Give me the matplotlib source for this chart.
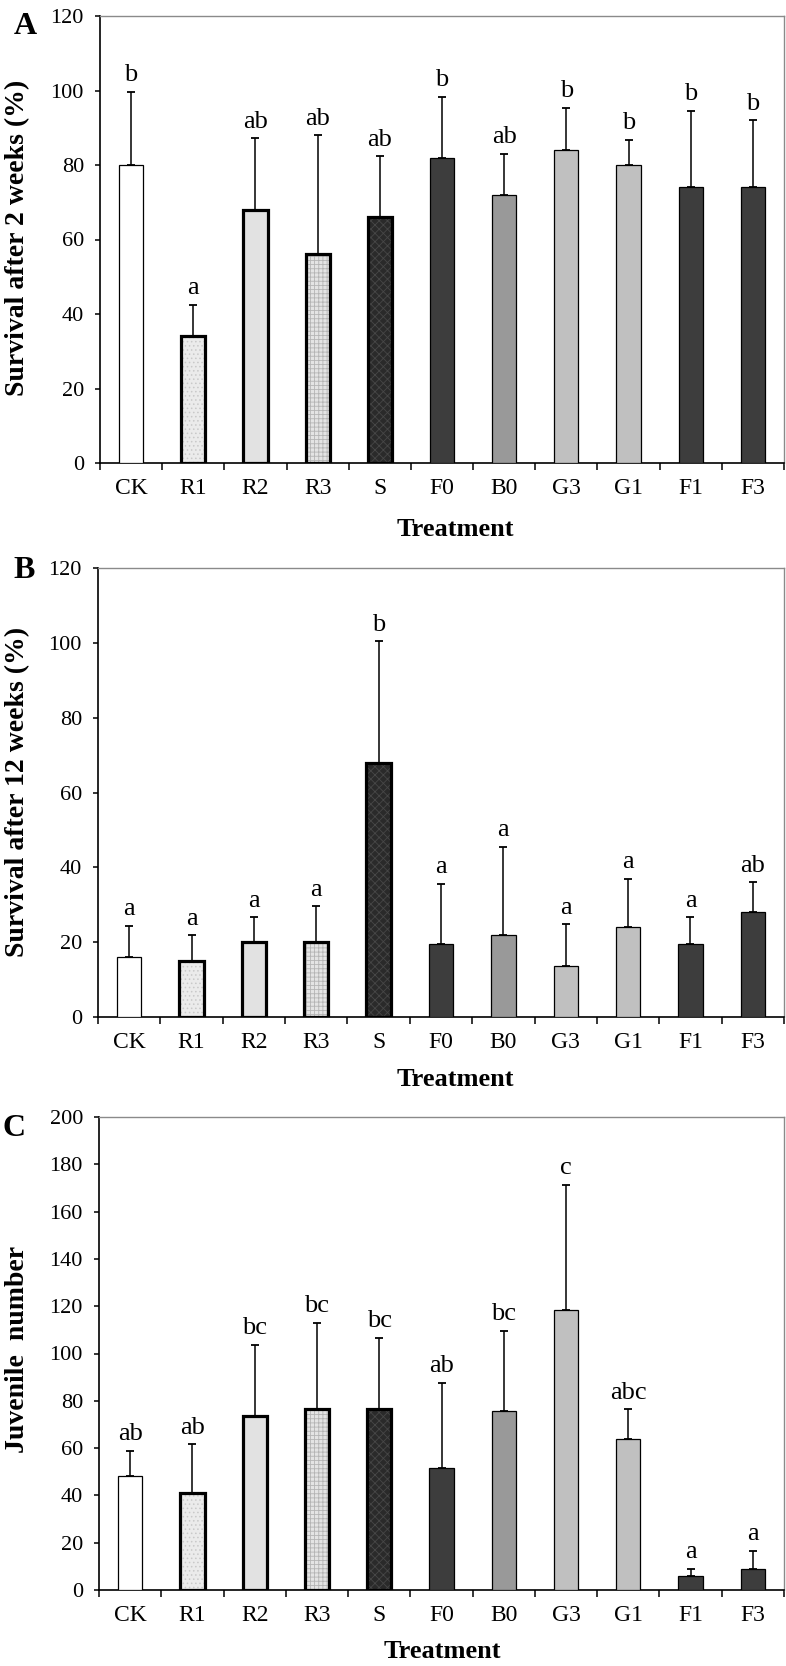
import matplotlib
matplotlib.use("Agg")
import matplotlib.pyplot as plt
import numpy as np

plt.rcParams["font.family"] = ["Liberation Serif", "DejaVu Serif"]
plt.rcParams["hatch.linewidth"] = 0.6

W, H = 786, 1666

categories = ["CK", "R1", "R2", "R3", "S", "F0", "B0", "G3", "G1", "F1", "F3"]

# panel A: survival after 2 weeks
surv2_mean = [80, 34, 68, 56, 66, 82, 72, 84, 80, 74, 74]
surv2_err = [19.7, 8.5, 19.2, 32, 16.4, 16.3, 11, 11.3, 6.8, 20.6, 18]
surv2_letters = ["b", "a", "ab", "ab", "ab", "b", "ab", "b", "b", "b", "b"]

# panel B: survival after 12 weeks
surv12_mean = [16, 15, 20, 20, 68, 19.6, 22, 13.7, 24, 19.6, 28]
surv12_err = [8.4, 6.9, 6.6, 9.6, 32.4, 16, 23.5, 11.1, 13, 7, 8]
surv12_letters = ["a", "a", "a", "a", "b", "a", "a", "a", "a", "a", "ab"]

# panel C: juvenile number
juv_mean = [48.3, 41, 73.4, 76.7, 76.7, 51.7, 75.7, 118.4, 63.7, 6.1, 9]
juv_err = [10.5, 20.6, 30.4, 36.3, 29.9, 36, 33.8, 52.9, 12.7, 2.9, 7.6]
juv_letters = ["ab", "ab", "bc", "bc", "bc", "ab", "bc", "c", "abc", "a", "a"]

# bar styles: (face, hatch, hatch colour, edge width)
styles = {
    "CK": ("#ffffff", None, None, 0.9),
    "R1": ("#ebebeb", "....", "#c9c9c9", 2.3),
    "R2": ("#e2e2e2", None, None, 2.3),
    "R3": ("#e4e4e4", "++++", "#b4b4b4", 2.3),
    "S": ("#2a2a2a", "xxxx", "#474747", 2.3),
    "F0": ("#3d3d3d", None, None, 0.9),
    "B0": ("#999999", None, None, 0.9),
    "G3": ("#c0c0c0", None, None, 0.9),
    "G1": ("#c0c0c0", None, None, 0.9),
    "F1": ("#3d3d3d", None, None, 0.9),
    "F3": ("#3d3d3d", None, None, 0.9),
}


def px_rect(left, top, right, bottom):
    return [left / W, 1 - bottom / H, (right - left) / W, (bottom - top) / H]


def draw_panel(ax, mean, err, letters, ymax, ystep):
    x = np.arange(len(categories))
    width = 0.39
    for i, cat in enumerate(categories):
        face, hatch, hcol, lw = styles[cat]
        if hatch:
            ax.bar(x[i], mean[i], width, color=face, hatch=hatch,
                   edgecolor=hcol, linewidth=0, zorder=2)
            ax.bar(x[i], mean[i], width, facecolor="none",
                   edgecolor="black", linewidth=lw, zorder=3)
        else:
            ax.bar(x[i], mean[i], width, color=face,
                   edgecolor="black", linewidth=lw, zorder=3)
    ax.errorbar(x, mean, yerr=[np.zeros(len(err)), err], fmt="none",
                ecolor="black", elinewidth=1.1, capsize=2.9, capthick=1.3,
                zorder=4)
    for i, lab in enumerate(letters):
        ax.annotate(lab, (x[i], mean[i] + err[i]), xytext=(0, 4),
                    textcoords="offset points", ha="center", va="bottom",
                    fontsize=19)

    ax.set_xlim(-0.5, len(categories) - 0.5)
    ax.set_ylim(0, ymax)
    ax.set_yticks(np.arange(0, ymax + 1, ystep))
    ax.set_xticks(x)
    ax.set_xticklabels(categories, fontsize=17)
    ax.set_xticks(np.arange(-0.5, len(categories)), minor=True)
    ax.tick_params(axis="x", which="major", length=0, pad=10.5)
    ax.tick_params(axis="x", which="minor", length=5, width=1.1,
                   direction="out")
    ax.tick_params(axis="y", length=3.6, width=1.1, direction="out",
                   labelsize=16, pad=8)

    for side in ("top", "right"):
        ax.spines[side].set_color("#8a8a8a")
        ax.spines[side].set_linewidth(1.0)
    for side in ("left", "bottom"):
        ax.spines[side].set_color("black")
        ax.spines[side].set_linewidth(1.2)


fig = plt.figure(figsize=(W / 100, H / 100), dpi=100)

ax_a = fig.add_axes(px_rect(100, 16, 784, 463))
draw_panel(ax_a, surv2_mean, surv2_err, surv2_letters, 120, 20)

ax_b = fig.add_axes(px_rect(98, 568, 784, 1017))
draw_panel(ax_b, surv12_mean, surv12_err, surv12_letters, 120, 20)

ax_c = fig.add_axes(px_rect(99, 1117, 784, 1590))
draw_panel(ax_c, juv_mean, juv_err, juv_letters, 200, 20)

ylabels = ["Survival after 2 weeks (%)", "Survival after 12 weeks (%)",
           "Juvenile  number"]
for lab, ly in zip(ylabels, [238, 792, 1349]):
    fig.text(18 / W, 1 - ly / H, lab, fontsize=20, fontweight="bold",
             rotation=90, ha="center", va="center")

for letter, (lx, ly) in zip("ABC", [(25, 26), (24, 571), (14, 1128)]):
    fig.text(lx / W, 1 - ly / H, letter, fontsize=23, fontweight="bold",
             ha="center", va="center")

for tx, ty in [(455, 530), (455, 1079), (442, 1652)]:
    fig.text(tx / W, 1 - ty / H, "Treatment", fontsize=19,
             fontweight="bold", ha="center", va="center")

fig.savefig("out.png", dpi=100)
plt.close(fig)
